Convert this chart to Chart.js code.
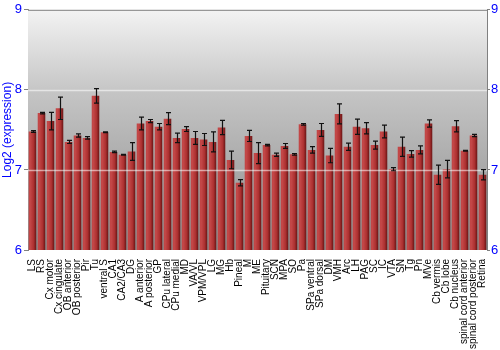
<!DOCTYPE html>
<html>
<head>
<meta charset="utf-8">
<script src="https://cdn.jsdelivr.net/npm/chart.js@4.4.0/dist/chart.umd.min.js"></script>
<style>
  html, body { margin: 0; padding: 0; background: #fff; }
  #wrap { width: 500px; height: 350px; }
</style>
</head>
<body>
<div id="wrap"><canvas id="chart" width="500" height="350"></canvas></div>
<script>
// Regions
const regions = ['LS', 'RS', 'Cx motor', 'Cx cingulate', 'OB anterior', 'OB posterior', 'Pir', 'Tu',
    'ventral S', 'CA1', 'CA2/CA3', 'DG', 'A anterior', 'A posterior', 'GP', 'CPu lateral', 'CPu medial',
    'MD', 'VA/VL', 'VPM/VPL', 'LG', 'MG', 'Hb', 'Pineal', 'M', 'ME', 'Pituitary', 'SCN', 'MPA', 'SO',
    'Pa', 'SPa ventral', 'SPa dorsal', 'DM', 'VMH', 'Arc', 'LH', 'PAG', 'SC', 'IC', 'VTA', 'SN', 'Tg',
    'Pn', 'MVe', 'Cb vermis', 'Cb lobe', 'Cb nucleus', 'spinal cord anterior', 'spinal cord posterior',
    'Retina'];

// Log2 expression
const expression = [7.48, 7.71, 7.61, 7.77, 7.35, 7.43, 7.40, 7.925,
    7.47, 7.225, 7.19, 7.23, 7.58, 7.61, 7.54, 7.64, 7.40,
    7.51, 7.40, 7.38, 7.35, 7.53, 7.125, 6.84, 7.425, 7.21, 7.31, 7.19, 7.30, 7.195,
    7.57, 7.25, 7.50, 7.18, 7.70, 7.29, 7.54, 7.52, 7.31, 7.48, 7.01, 7.29, 7.20,
    7.25, 7.58, 6.94, 7.01, 7.545, 7.24, 7.43,
    6.94];

// Error (+/-)
const errors = [0.01, 0.01, 0.11, 0.14, 0.02, 0.02, 0.015, 0.09,
    0.005, 0.01, 0.005, 0.11, 0.08, 0.02, 0.04, 0.075, 0.06,
    0.03, 0.08, 0.075, 0.125, 0.09, 0.11, 0.04, 0.07, 0.13, 0.01, 0.02, 0.03, 0.01,
    0.01, 0.04, 0.08, 0.09, 0.125, 0.045, 0.095, 0.07, 0.05, 0.08, 0.02, 0.12, 0.04,
    0.05, 0.045, 0.12, 0.11, 0.07, 0.005, 0.015,
    0.065];

const yTicks = [6, 7, 8, 9];
const gridValues = [7, 8];

const BAR_PCT = 0.84;

// Shaded bar fill, light on the left and dark on the right edge
function barFill(context) {
    const chart = context.chart;
    const xs = chart.scales.x;
    if (!chart.chartArea || !xs) return '#b03232';
    const step = xs.getPixelForValue(1) - xs.getPixelForValue(0);
    const w = step * BAR_PCT;
    const x0 = xs.getPixelForValue(context.dataIndex) - w / 2;
    const g = chart.ctx.createLinearGradient(x0, 0, x0 + w, 0);
    g.addColorStop(0, '#c04444');
    g.addColorStop(0.2, '#c44848');
    g.addColorStop(0.65, '#ac3030');
    g.addColorStop(1, '#681414');
    return g;
}

// Grey gradient behind the plot
const backgroundPlugin = {
    id: 'plotBackground',
    beforeDatasetsDraw(chart) {
        const { ctx, chartArea: a } = chart;
        const g = ctx.createLinearGradient(0, a.top, 0, a.bottom);
        g.addColorStop(0, '#f3f3f3');
        g.addColorStop(0.35, '#c4c4c4');
        g.addColorStop(0.7, '#a6a6a6');
        g.addColorStop(1, '#8c8c8c');
        ctx.save();
        ctx.fillStyle = g;
        ctx.fillRect(a.left, a.top, a.right - a.left, a.bottom - a.top);
        ctx.restore();
    }
};

// White grid lines over the bars, top border and error bars
const overlayPlugin = {
    id: 'overlay',
    afterDatasetsDraw(chart) {
        const { ctx, chartArea: a, scales } = chart;
        const y = scales.y;
        ctx.save();

        ctx.strokeStyle = 'rgba(255, 255, 255, 0.55)';
        ctx.lineWidth = 1.5;
        gridValues.forEach(v => {
            const py = Math.round(y.getPixelForValue(v)) + 0.5;
            ctx.beginPath();
            ctx.moveTo(a.left, py);
            ctx.lineTo(a.right, py);
            ctx.stroke();
        });

        ctx.strokeStyle = '#808080';
        ctx.lineWidth = 1;
        ctx.beginPath();
        ctx.moveTo(a.left, a.top + 0.5);
        ctx.lineTo(a.right, a.top + 0.5);
        ctx.stroke();

        const meta = chart.getDatasetMeta(0);
        ctx.strokeStyle = '#111';
        ctx.lineWidth = 1.2;
        meta.data.forEach((bar, i) => {
            const v = expression[i];
            const e = errors[i];
            const top = y.getPixelForValue(v + e);
            const bot = y.getPixelForValue(v - e);
            const x = Math.round(bar.x) + 0.5;
            ctx.beginPath();
            ctx.moveTo(x, top);
            ctx.lineTo(x, bot);
            ctx.moveTo(x - 2.5, top);
            ctx.lineTo(x + 2.5, top);
            ctx.moveTo(x - 2.5, bot);
            ctx.lineTo(x + 2.5, bot);
            ctx.stroke();
        });
        ctx.restore();
    }
};

new Chart(document.getElementById('chart'), {
    type: 'bar',
    data: {
        labels: regions,
        datasets: [{
            data: expression,
            backgroundColor: barFill,
            borderWidth: 0,
            barPercentage: BAR_PCT,
            categoryPercentage: 1.0
        }]
    },
    options: {
        responsive: false,
        animation: false,
        layout: {
            padding: { top: 9, left: 0, right: 0, bottom: 0 }
        },
        plugins: {
            legend: { display: false },
            tooltip: { enabled: false }
        },
        scales: {
            x: {
                grid: { display: false },
                border: { display: false },
                ticks: {
                    autoSkip: false,
                    maxRotation: 90,
                    minRotation: 90,
                    padding: 1,
                    color: '#000',
                    font: { family: 'Liberation Sans', size: 10 }
                },
                afterFit: scale => { scale.height = 100; }
            },
            y: {
                position: 'left',
                min: 6,
                max: 9,
                afterBuildTicks: scale => { scale.ticks = yTicks.map(v => ({ value: v })); },
                grid: { drawOnChartArea: false, tickLength: 4, tickColor: '#808080' },
                border: { display: true, color: '#808080' },
                ticks: {
                    padding: 2,
                    color: '#0000ff',
                    font: { family: 'Liberation Sans', size: 13 }
                },
                title: {
                    display: true,
                    text: 'Log2 (expression)',
                    color: '#0000ff',
                    padding: 0,
                    font: { family: 'Liberation Sans', size: 12 }
                },
                afterFit: scale => { scale.width = 28; }
            },
            y2: {
                position: 'right',
                min: 6,
                max: 9,
                afterBuildTicks: scale => { scale.ticks = yTicks.map(v => ({ value: v })); },
                grid: { drawOnChartArea: false, tickLength: 3, tickColor: '#808080' },
                border: { display: true, color: '#808080' },
                ticks: {
                    padding: 1,
                    color: '#0000ff',
                    font: { family: 'Liberation Sans', size: 13 }
                },
                afterFit: scale => { scale.width = 13; }
            }
        }
    },
    plugins: [backgroundPlugin, overlayPlugin]
});
</script>
</body>
</html>
